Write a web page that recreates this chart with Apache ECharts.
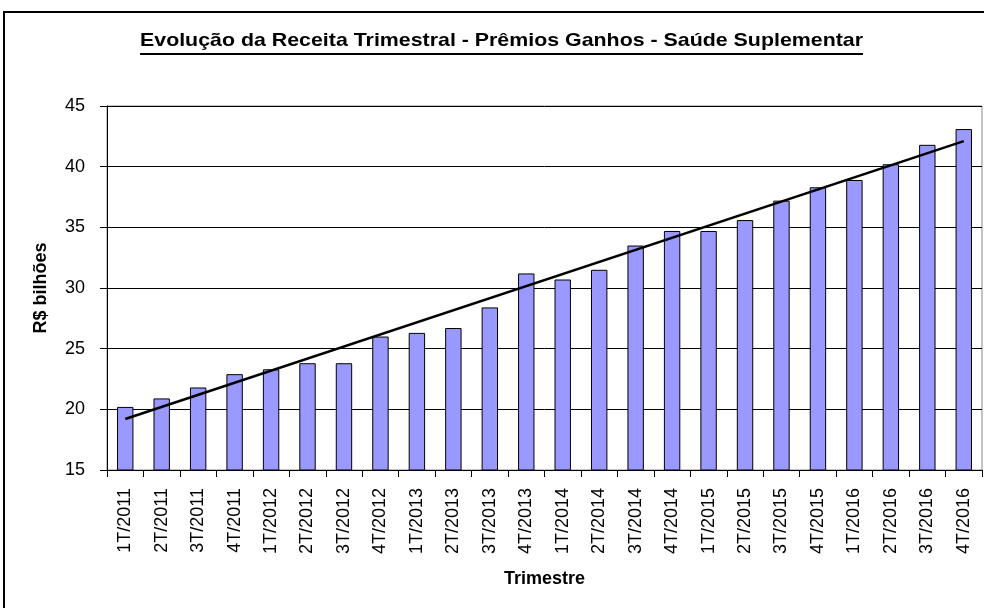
<!DOCTYPE html>
<html><head><meta charset="utf-8">
<script src="https://cdn.jsdelivr.net/npm/echarts@6/dist/echarts.min.js"></script>
<style>html,body{margin:0;padding:0;background:#fff}#c{width:984px;height:608px}</style>
</head><body><div id="c"></div>
<script>
const categories = ['1T/2011','2T/2011','3T/2011','4T/2011','1T/2012','2T/2012','3T/2012','4T/2012','1T/2013','2T/2013','3T/2013','4T/2013','1T/2014','2T/2014','3T/2014','4T/2014','1T/2015','2T/2015','3T/2015','4T/2015','1T/2016','2T/2016','3T/2016','4T/2016'];
const receita = [20.2,20.9,21.8,22.9,23.3,23.8,23.8,26.0,26.3,26.7,28.4,31.2,30.7,31.5,33.5,34.7,34.7,35.6,37.2,38.3,38.9,40.2,41.8,43.1];
const trendEnds = [19.2, 42.1];
const yTicks = [15,20,25,30,35,40,45];
const titleText = 'Evolução da Receita Trimestral - Prêmios Ganhos - Saúde Suplementar';

const font = 'Arial, "Liberation Sans", sans-serif';
const titleFont = 'bold 19px Arial, "Liberation Sans", sans-serif';
const cv = document.createElement('canvas').getContext('2d');
cv.font = titleFont;
const titleW = cv.measureText(titleText).width;
const titleLeft = 140, titleRight = 863;
const sx = (titleRight - titleLeft) / titleW;

const chart = echarts.init(document.getElementById('c'));
chart.setOption({
  animation:false,
  backgroundColor:'#fff',
  graphic:[
    {type:'rect',shape:{x:4,y:12,width:1000,height:700},style:{fill:'none',stroke:'#000',lineWidth:2}},
    {type:'text',x:titleLeft,y:41,scaleX:sx,scaleY:1,
      style:{text:titleText,font:titleFont,fill:'#000',textAlign:'left',textVerticalAlign:'middle'}},
    {type:'line',shape:{x1:titleLeft,y1:54,x2:titleRight,y2:54},style:{stroke:'#000',lineWidth:2}}
  ],
  grid:{left:107,right:2,top:106,bottom:138,show:true,borderColor:'#888',borderWidth:1},
  xAxis:{type:'category',data:categories,
    axisLine:{lineStyle:{color:'#000',width:1}},
    axisTick:{show:true,length:7,lineStyle:{color:'#000'}},
    axisLabel:{rotate:90,interval:0,margin:18,fontFamily:font,fontSize:18,color:'#000'},
    name:'Trimestre',nameLocation:'middle',nameGap:100,
    nameTextStyle:{fontFamily:font,fontSize:18,fontWeight:'bold',color:'#000'}},
  yAxis:{type:'value',min:yTicks[0],max:yTicks[yTicks.length-1],interval:5,
    axisLine:{show:true,lineStyle:{color:'#000'}},
    axisTick:{show:true,length:7,lineStyle:{color:'#000'}},
    axisLabel:{margin:22,fontFamily:font,fontSize:18,color:'#000'},
    splitLine:{lineStyle:{color:'#000',width:1}},
    name:'R$ bilhões',nameLocation:'middle',nameGap:57,
    nameTextStyle:{fontFamily:font,fontSize:18,fontWeight:'bold',color:'#000'}},
  series:[
    {type:'bar',data:receita,barWidth:'45%',itemStyle:{color:'#9999ff',borderColor:'#000',borderWidth:1}},
    {type:'line',data:[[0,trendEnds[0]],[categories.length-1,trendEnds[1]]],symbol:'none',
      lineStyle:{color:'#000',width:2.5},z:5}
  ]
});
</script></body></html>
